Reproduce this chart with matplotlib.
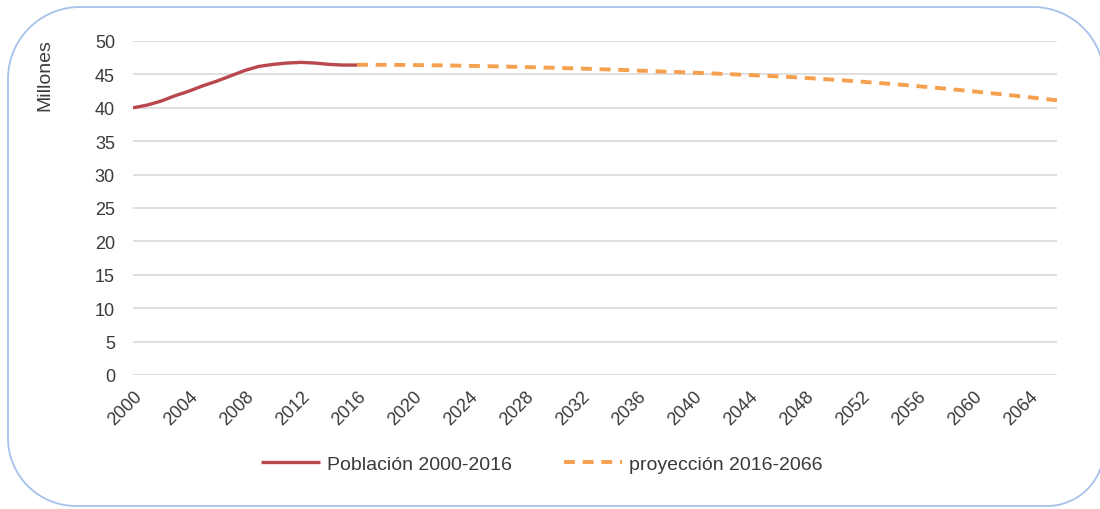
import matplotlib
matplotlib.use("Agg")
import matplotlib.pyplot as plt
import numpy as np
from matplotlib.path import Path
from matplotlib.patches import PathPatch

plt.rcParams['font.family'] = ['Liberation Sans', 'DejaVu Sans']

# Población residente en España (millones)
years_hist = list(range(2000, 2017))
pop_hist = [40.0, 40.4, 41.0, 41.8, 42.5, 43.3, 44.0, 44.8, 45.6, 46.2,
            46.5, 46.7, 46.8, 46.7, 46.5, 46.4, 46.4]

years_proj = list(range(2016, 2067))
pop_proj = [46.44, 46.44, 46.43, 46.42, 46.40, 46.38, 46.35, 46.32, 46.28, 46.24,
            46.20, 46.15, 46.10, 46.05, 45.99, 45.93, 45.87, 45.80, 45.73, 45.66,
            45.58, 45.50, 45.42, 45.34, 45.26, 45.18, 45.09, 45.00, 44.91, 44.81,
            44.71, 44.60, 44.48, 44.35, 44.21, 44.07, 43.92, 43.76, 43.60, 43.43,
            43.25, 43.06, 42.87, 42.67, 42.46, 42.25, 42.03, 41.81, 41.58, 41.35,
            41.12]

xticks = list(range(2000, 2065, 4))
yticks = list(range(0, 51, 5))

RED = '#b8474e'
ORANGE = '#f5a04e'
TEXT = '#3a3a3a'


def rounded_frame(x0, y0, x1, y1, r_tl, r_tr, r_br, r_bl):
    # outline of a rectangle with its own radius on each corner (pixel coords, y up)
    def arc(cx, cy, r, a0, a1):
        t = np.linspace(np.radians(a0), np.radians(a1), 30)
        return np.column_stack([cx + r * np.cos(t), cy + r * np.sin(t)])
    pts = np.vstack([
        arc(x0 + r_tl, y1 - r_tl, r_tl, 90, 180),
        arc(x0 + r_bl, y0 + r_bl, r_bl, 180, 270),
        arc(x1 - r_br, y0 + r_br, r_br, 270, 360),
        arc(x1 - r_tr, y1 - r_tr, r_tr, 0, 90),
    ])
    pts = np.vstack([pts, pts[:1]])
    return Path(pts)


fig = plt.figure(figsize=(11, 5.1), dpi=100)

bg = fig.add_axes([0, 0, 1, 1])
bg.set_xlim(0, 1100)
bg.set_ylim(0, 510)
bg.axis('off')
bg.add_patch(PathPatch(rounded_frame(8, 3, 1104, 502, 72, 71, 57, 68),
                       fill=False, edgecolor='#a7c2ea', linewidth=1.3))

ax = fig.add_axes([133 / 1100, 1 - 376 / 510, (1057 - 133) / 1100, (376 - 42) / 510])
ax.patch.set_alpha(0)

l1, = ax.plot(years_hist, pop_hist, color=RED, lw=2.4, solid_capstyle='butt',
              label='Población 2000-2016')
l2, = ax.plot(years_proj, pop_proj, color=ORANGE, lw=2.8, dashes=(2.8, 2.0),
              label='proyección 2016-2066')

ax.set_xlim(2000, 2066)
ax.set_ylim(0, 50)
ax.set_yticks(yticks)
ax.set_xticks(xticks)
ax.grid(axis='y', color='#dcdcdc', lw=1.3)
ax.set_axisbelow(True)
for s in ax.spines.values():
    s.set_visible(False)
ax.tick_params(axis='both', length=0, labelsize=13, labelcolor=TEXT)
ax.tick_params(axis='y', pad=13)
ax.tick_params(axis='x', pad=9)
for lab in ax.get_xticklabels():
    lab.set_rotation(45)
    lab.set_ha('right')
    lab.set_va('top')
    lab.set_rotation_mode('anchor')

fig.text(45 / 1100, 1 - 75 / 510, 'Millones', rotation=90, ha='center', va='center',
         fontsize=14, color=TEXT)

fig.legend(handles=[l1, l2], loc='center', bbox_to_anchor=(542 / 1100, 1 - 465 / 510),
           ncol=2, frameon=False, fontsize=14, handlelength=3.0, handletextpad=0.35,
           columnspacing=2.7, labelcolor=TEXT)

fig.savefig('out.png', dpi=100)
